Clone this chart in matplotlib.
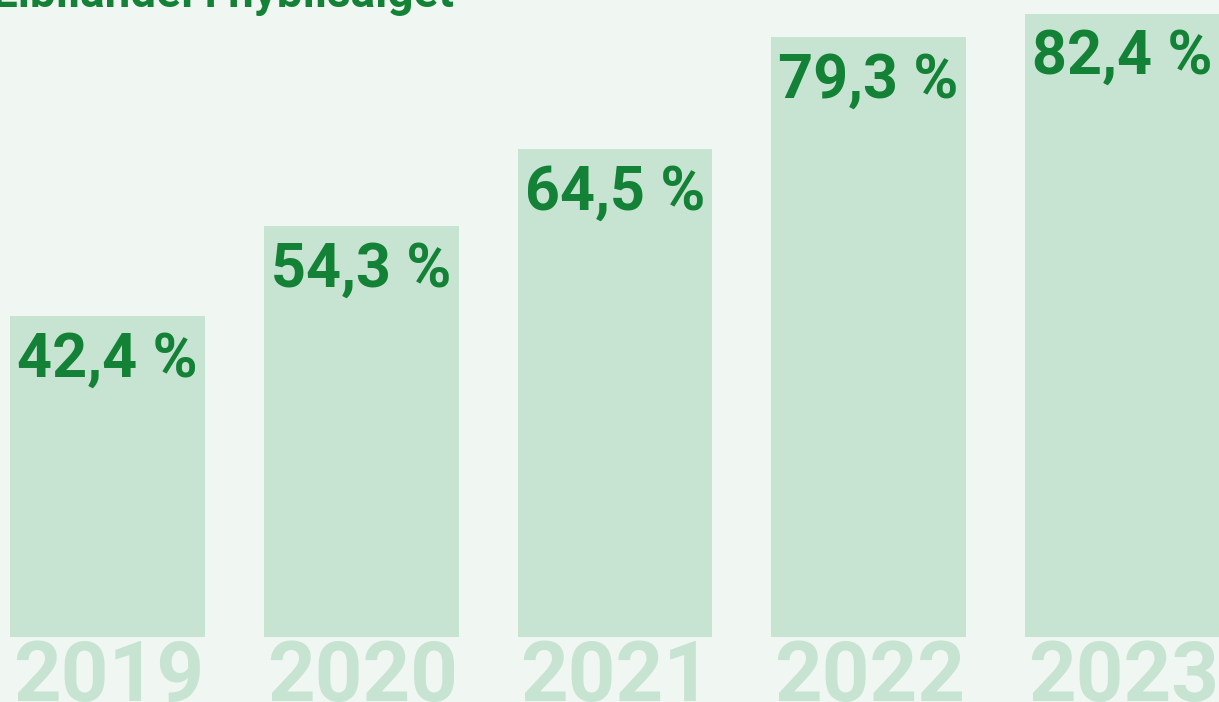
import numpy as np
import matplotlib.pyplot as plt

# Elbilandel i nybilsalget, pct.
years = ['2019', '2020', '2021', '2022', '2023']
share = [42.4, 54.3, 64.5, 79.3, 82.4]
labels = ['42,4 %', '54,3 %', '64,5 %', '79,3 %', '82,4 %']

bg = '#f0f7f2'
barcol = '#c7e4d3'
green = '#148236'

plt.rcParams['font.family'] = ['Roboto', 'DejaVu Sans']

fig = plt.figure(figsize=(12.19, 7.02), dpi=100, facecolor=bg)
ax = fig.add_axes([0, 0, 1, 1])
ax.set_facecolor(bg)

x = np.arange(len(years))
w = 0.768
ax.bar(x, share, width=w, color=barcol, linewidth=0)

for xi, v, lab, yr in zip(x, share, labels, years):
    ax.annotate(lab, (xi - w / 2, v), xytext=(7, -14), textcoords='offset pixels',
                ha='left', va='top', fontsize=44, fontweight='bold', color=green)
    ax.annotate(yr, (xi - w / 2, 0), xytext=(3, -2), textcoords='offset pixels',
                ha='left', va='top', fontsize=60, fontweight='bold', color=barcol,
                annotation_clip=False)

ax.set_xlim(-0.4236, 4.380)
ax.set_ylim(-8.6, 84.26)
ax.axis('off')

fig.text(-8 / 1219, 1 - 7 / 702, 'Elbilandel i nybilsalget', ha='left', va='baseline',
         fontsize=33, fontweight='bold', color=green)

fig.savefig('out.png', dpi=100, facecolor=bg)
